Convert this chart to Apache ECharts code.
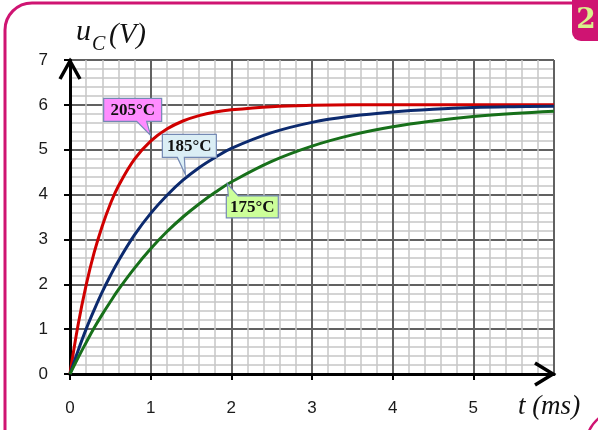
<!DOCTYPE html>
<html>
<head>
<meta charset="utf-8">
<script src="https://cdn.jsdelivr.net/npm/echarts@6/dist/echarts.min.js"></script>
<style>
  html, body { margin: 0; padding: 0; background: #fff; }
  #chart { width: 598px; height: 430px; }
</style>
</head>
<body>
<div id="chart"></div>
<script>
// t en ms
const timeMs = [0, 0.1, 0.2, 0.3, 0.4, 0.5, 0.6, 0.8, 1, 1.2, 1.4, 1.6, 1.8, 2, 2.5, 3, 3.5, 4, 4.5, 5, 5.5, 6];
// u_C en V
const u205 = [0, 1.09, 1.98, 2.71, 3.30, 3.79, 4.19, 4.79, 5.19, 5.46, 5.64, 5.76, 5.84, 5.89, 5.96, 5.99, 6.0, 6.0, 6.0, 6.0, 6.0, 6.0];
const u185 = [0, 0.52, 1.00, 1.43, 1.83, 2.19, 2.52, 3.10, 3.58, 3.98, 4.32, 4.60, 4.83, 5.03, 5.38, 5.61, 5.75, 5.84, 5.90, 5.94, 5.96, 5.97];
const u175 = [0, 0.36, 0.70, 1.03, 1.33, 1.61, 1.88, 2.36, 2.79, 3.17, 3.50, 3.79, 4.05, 4.28, 4.74, 5.08, 5.33, 5.51, 5.64, 5.74, 5.81, 5.86];
const curveNames = ['205°C', '185°C', '175°C'];
const curveColors = ['#d00000', '#0c2a6e', '#17701a'];
const bubbleColors = ['#ff8cff', '#dbeef5', '#ccff99'];
// point of the curve each label points at [t, u]
const labelTips = [[1.0, 5.32], [1.43, 4.45], [1.95, 4.24]];

const serif = '"Liberation Serif", "DejaVu Serif", serif';
const sans = '"Liberation Sans", Arial, sans-serif';

const toPairs = vals => vals.map((v, i) => [timeMs[i], v]);

const option = {
  animation: false,
  backgroundColor: '#fff',
  grid: { left: 70, top: 60, right: 44, bottom: 56, containLabel: false, outerBoundsMode: 'none' },
  xAxis: {
    type: 'value',
    min: 0,
    max: 6,
    interval: 1,
    axisLine: { show: true, onZero: false, lineStyle: { color: '#000', width: 3 } },
    axisTick: { show: true, length: 6, lineStyle: { color: '#000', width: 2 } },
    axisLabel: { margin: 26, color: '#1a1a1a', fontSize: 17, fontFamily: sans, showMaxLabel: false,
      formatter: v => (v === 6 ? '' : String(v)) },
    splitLine: { show: true, lineStyle: { color: '#616161', width: 2 } },
    minorTick: { show: false, splitNumber: 5 },
    minorSplitLine: { show: true, lineStyle: { color: '#c6c6c6', width: 1.5 } }
  },
  yAxis: {
    type: 'value',
    min: 0,
    max: 7,
    interval: 1,
    axisLine: { show: true, onZero: false, lineStyle: { color: '#000', width: 3 } },
    axisTick: { show: true, length: 6, lineStyle: { color: '#000', width: 2 } },
    axisLabel: { margin: 22, color: '#1a1a1a', fontSize: 17, fontFamily: sans },
    splitLine: { show: true, lineStyle: { color: '#616161', width: 2 } },
    minorTick: { show: false, splitNumber: 5 },
    minorSplitLine: { show: true, lineStyle: { color: '#c6c6c6', width: 1.5 } }
  },
  series: [u205, u185, u175].map((vals, i) => ({
    name: curveNames[i],
    type: 'line',
    smooth: 0.4,
    showSymbol: false,
    data: toPairs(vals),
    lineStyle: { color: curveColors[i], width: 3 },
    z: 5
  }))
};

const chart = echarts.init(document.getElementById('chart'), null, { renderer: 'canvas' });
chart.setOption(option);

const px = p => chart.convertToPixel({ gridIndex: 0 }, p);

// bulles : box relative to tip, tail base on bottom (or top) edge
function bubble(i, dx, dy, w, h, b1, b2, onTop) {
  const tip = px(labelTips[i]);
  const l = tip[0] + dx, t = tip[1] + dy, r = l + w, b = t + h;
  let pts;
  if (onTop) {
    pts = [[l, t], [l + b1, t], tip, [l + b2, t], [r, t], [r, b], [l, b]];
  } else {
    pts = [[l, t], [r, t], [r, b], [l + b2, b], tip, [l + b1, b], [l, b]];
  }
  return [
    { type: 'polygon', shape: { points: pts }, style: { fill: bubbleColors[i], stroke: '#7489b4', lineWidth: 1.2 }, z: 20 },
    { type: 'text', x: l + w / 2, y: t + h / 2 + 1, z: 21,
      style: { text: curveNames[i], font: 'bold 17px ' + serif, fill: '#111', align: 'center', verticalAlign: 'middle' } }
  ];
}

const yTip = px([0, 7]);
const xTip = px([6, 0]);

chart.setOption({
  graphic: [
    // cadre
    { type: 'rect', z: 1, shape: { x: 5, y: 3, width: 900, height: 900, r: [27, 0, 0, 0] },
      style: { fill: 'none', stroke: '#cf1472', lineWidth: 3 } },
    { type: 'bezierCurve', z: 1, shape: { x1: 589, y1: 431, cpx1: 592, cpy1: 424, x2: 599, y2: 418 },
      style: { fill: 'none', stroke: '#cf1472', lineWidth: 2.5 } },
    { type: 'rect', z: 2, shape: { x: 572, y: 0, width: 40, height: 41, r: [0, 0, 0, 9] },
      style: { fill: '#cf1472' } },
    { type: 'text', z: 3, x: 586, y: 21,
      style: { text: '2', fontFamily: '"DejaVu Serif", serif', fontWeight: 'bold', fontSize: 28, fill: '#d9f28c', align: 'center', verticalAlign: 'middle' } },
    // flèches des axes
    { type: 'polyline', z: 30, shape: { points: [[yTip[0] - 10, yTip[1] + 19], [yTip[0], yTip[1] + 1], [yTip[0] + 10, yTip[1] + 19]] },
      style: { stroke: '#000', lineWidth: 3.5, fill: 'none' } },
    { type: 'polyline', z: 30, shape: { points: [[xTip[0] - 19, xTip[1] - 11], [xTip[0] - 1, xTip[1]], [xTip[0] - 19, xTip[1] + 11]] },
      style: { stroke: '#000', lineWidth: 3.5, fill: 'none' } },
    // noms des axes
    { type: 'text', z: 10, x: 76, y: 47,
      style: { text: 'u', font: 'italic 30px ' + serif, fill: '#111', verticalAlign: 'bottom' } },
    { type: 'text', z: 10, x: 92, y: 55,
      style: { text: 'C', font: 'italic 20px ' + serif, fill: '#111', verticalAlign: 'bottom' } },
    { type: 'text', z: 10, x: 109, y: 50,
      style: { text: '(V)', font: 'italic 29px ' + serif, fill: '#111', verticalAlign: 'bottom' } },
    { type: 'text', z: 10, x: 549, y: 407,
      style: { text: 't (ms)', font: 'italic 27px ' + serif, fill: '#111', align: 'center', verticalAlign: 'middle' } },
    ...bubble(0, -47, -37, 58, 23, 33, 43, false),
    ...bubble(1, -23, -40, 54, 23, 15, 22, false),
    ...bubble(2, -1, 12, 52, 22, 2, 12, true)
  ]
});
</script>
</body>
</html>
